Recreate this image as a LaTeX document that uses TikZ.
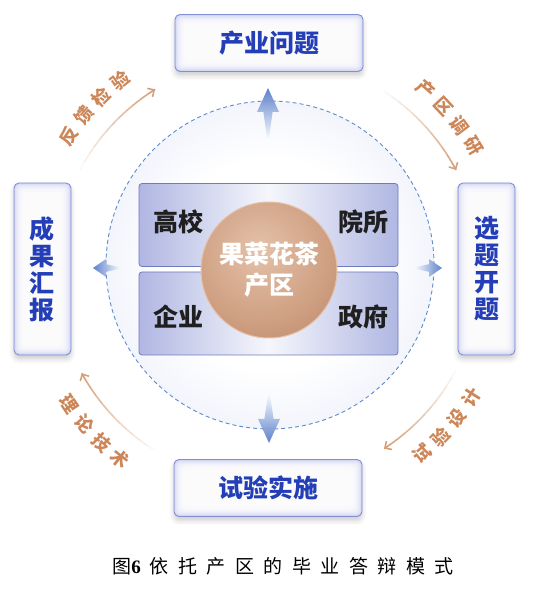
\documentclass[tikz,border=0pt]{standalone}
\usepackage{fontspec}
\newfontfamily\cjk{Noto Sans CJK SC}
\newfontfamily\capnum{Liberation Serif}
\usetikzlibrary{arrows.meta,calc,positioning,shadows.blur}

\definecolor{stagetext}{RGB}{35,62,182}
\definecolor{boxline}{RGB}{132,142,212}
\definecolor{boxglow}{RGB}{206,211,242}
\definecolor{actline}{RGB}{112,122,190}
\definecolor{actside}{RGB}{176,183,226}
\definecolor{brlight}{RGB}{228,194,170}
\definecolor{brmid}{RGB}{206,158,128}
\definecolor{brdark}{RGB}{176,120,90}
\definecolor{diskedge}{RGB}{208,217,243}
\definecolor{dashblue}{RGB}{98,138,200}
\definecolor{arrowblue}{RGB}{76,116,198}
\definecolor{arctan}{RGB}{214,160,124}
\definecolor{labeltan}{RGB}{204,134,88}

\pgfdeclareradialshading{diskshade}{\pgfpoint{0bp}{0bp}}{color(0bp)=(white); color(16bp)=(white); color(50bp)=(diskedge); color(100bp)=(diskedge)}
\pgfdeclareradialshading{bronze}{\pgfpoint{-4bp}{8bp}}{color(0bp)=(brlight); color(26bp)=(brmid); color(50bp)=(brdark); color(100bp)=(brdark)}

\newcommand\tanarc[2]{%
  \foreach \i in {0,...,11}{
    \pgfmathsetmacro\aa{#1+(#2-#1)*\i/12}
    \pgfmathsetmacro\ab{#1+(#2-#1)*(\i+1)/12}
    \pgfmathsetmacro\op{0.08+0.92*\i/11}
    \draw[arcline,draw opacity=\op] ($(ctr)+(\aa:213)$) arc[start angle=\aa,end angle=\ab,radius=213];
  }
  \draw[arcline,-{Straight Barb[length=5pt,width=10pt]}] ($(ctr)+(#2+1:213)$) arc[start angle=#2+1,end angle=#2,radius=213];}

\newcommand\arclabel[5]{%
  \foreach \ch [count=\k] in {#4}{
    \pgfmathsetmacro\ang{#1-#2*(\k-2.5)*6}
    \pgfmathsetmacro\rot{\ang+#3}
    \node[arctext,rotate=\rot] (#5\k) at ($(ctr)+(\ang:240)$) {\ch};
  }}

\begin{document}
\begin{tikzpicture}[x=1pt,y=1pt]
\tikzset{
  stagebox/.style={draw=boxline,line width=0.9pt,rounded corners=5pt,fill=boxglow,inner sep=0pt,
    text=stagetext,font=\cjk\bfseries\fontsize{25}{27}\selectfont,
    blur shadow={shadow xshift=0pt,shadow yshift=-4pt,shadow opacity=20,shadow blur radius=5pt},
    path picture={\foreach \k in {1,...,9}
      \fill[white,opacity=0.28,rounded corners=4pt]
        ([shift={(1.1*\k,1.1*\k)}]path picture bounding box.south west) rectangle
        ([shift={(-1.1*\k,-1.1*\k)}]path picture bounding box.north east);}},
  hbox/.style={stagebox,minimum width=188pt,minimum height=57pt},
  vbox/.style={stagebox,minimum width=57pt,minimum height=172pt,align=center},
  actorbox/.style={draw=actline,line width=0.8pt,rounded corners=3pt,left color=actside,right color=actside,
    middle color=actside!12,minimum width=259pt,minimum height=83pt,inner sep=0pt},
  actorlabel/.style={font=\cjk\bfseries\fontsize{25}{27}\selectfont,text=black!88},
  flow/.style={opacity=0.9},
  arcline/.style={draw=arctan,line width=1.6pt},
  arctext/.style={font=\cjk\bfseries\fontsize{18}{20}\selectfont,text=labeltan,inner sep=0pt}
}
\useasboundingbox (0,0) rectangle (546,603);
\coordinate (dctr) at (270,338);
\coordinate (ctr) at (268,333);
\shade[shading=diskshade] (dctr) circle[radius=164];
\draw[dashblue,line width=0.9pt,dash pattern=on 4pt off 3pt] (dctr) circle[radius=164];

\node[actorbox] (upper) at (268.5,378) {};
\node[actorbox] (lower) at (268.5,289.5) {};
\node[actorlabel] (gaoxiao) at (178,381) {高校};
\node[actorlabel] (yuansuo) at (363,381) {院所};
\node[actorlabel] (qiye) at (178,286) {企业};
\node[actorlabel] (zhengfu) at (363,286) {政府};
\node[circle,minimum size=136pt,shading=bronze,draw=brlight,line width=1pt,text=white,align=center,
  font=\cjk\bfseries\fontsize{25}{31}\selectfont] (chanqu) at (269,333) {果菜花茶\\产区};

\coordinate (tipN) at (268,515);
\coordinate (tipS) at (269,160);
\coordinate (tipW) at (93,335);
\coordinate (tipE) at (442,335);
\shade[flow,top color=arrowblue,bottom color=arrowblue!5] (tipN) -- +(11,-24) -- +(4.6,-24) -- +(1,-50)
  -- +(-1,-50) -- +(-4.6,-24) -- +(-11,-24) -- cycle;
\shade[flow,bottom color=arrowblue,top color=arrowblue!5] (tipS) -- +(11,24) -- +(4.6,24) -- +(1,48)
  -- +(-1,48) -- +(-4.6,24) -- +(-11,24) -- cycle;
\shade[flow,left color=arrowblue,right color=arrowblue!8] (tipW) -- +(13,9) -- +(13,3.8) -- +(26,1)
  -- +(26,-1) -- +(13,-3.8) -- +(13,-9) -- cycle;
\shade[flow,right color=arrowblue,left color=arrowblue!8] (tipE) -- +(-13,9) -- +(-13,3.8) -- +(-26,1)
  -- +(-26,-1) -- +(-13,-3.8) -- +(-13,-9) -- cycle;

\node[hbox] (wenti) at (269,560) {产业问题};
\node[hbox] (shishi) at (268,115) {试验实施};
\node[vbox] (huibao) at (42.5,334) {成\\果\\汇\\报};
\node[vbox] (kaiti) at (486.5,334) {选\\题\\开\\题};

\tanarc{152}{122}
\tanarc{57}{28}
\tanarc{-28}{-57}
\tanarc{-122}{-151}
\arclabel{137}{1}{-90}{反,馈,检,验}{fk}
\arclabel{40}{1}{-90}{产,区,调,研}{dy}
\arclabel{-41}{-1}{90}{试,验,设,计}{sj}
\arclabel{-137}{-1}{90}{理,论,技,术}{js}

\node[font=\cjk\fontsize{19}{21}\selectfont] (caption) at (283,37)
  {图{\capnum\bfseries 6}\hspace{9pt}{\addfontfeature{LetterSpace=50}依托产区的毕业答辩模式}};
\end{tikzpicture}
\end{document}
